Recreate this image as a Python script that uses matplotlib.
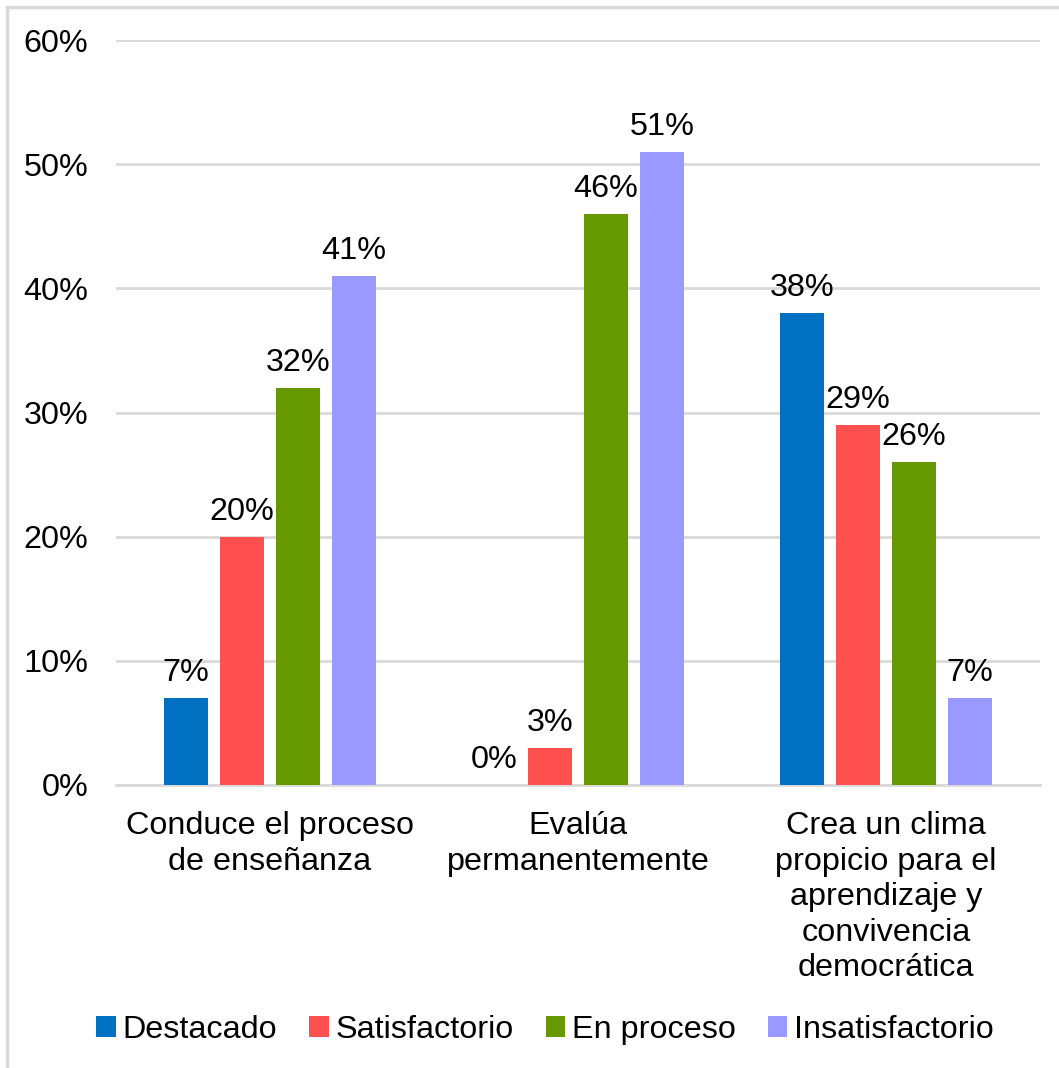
import numpy as np
import matplotlib.pyplot as plt
from matplotlib.patches import Rectangle

plt.rcParams['font.family'] = ['Liberation Sans', 'DejaVu Sans']

categorias = ["Conduce el proceso\nde enseñanza",
              "Evalúa\npermanentemente",
              "Crea un clima\npropicio para el\naprendizaje y\nconvivencia\ndemocrática"]
niveles = ["Destacado", "Satisfactorio", "En proceso", "Insatisfactorio"]
destacado = [7, 0, 38]
satisfactorio = [20, 3, 29]
en_proceso = [32, 46, 26]
insatisfactorio = [41, 51, 7]
colores = ["#0070C0", "#FF5050", "#669900", "#9999FF"]

series = [destacado, satisfactorio, en_proceso, insatisfactorio]
fs = 23.3

fig = plt.figure(figsize=(10.59, 10.68), dpi=100)
ax = fig.add_axes([116 / 1059, 283 / 1068, 924 / 1059, 745 / 1068])

# light frame on the left and top edges of the chart
fig.patches.append(Rectangle((7 / 1059, -0.1), 1.2, (1061 / 1068) + 0.1,
                             transform=fig.transFigure, fill=False,
                             edgecolor="#d9d9d9", linewidth=2.5))

x = np.arange(len(categorias))
ancho = 44 / 308
paso = 56 / 308
for i, (vals, col, nom) in enumerate(zip(series, colores, niveles)):
    pos = x + (i - 1.5) * paso
    ax.bar(pos, vals, width=ancho, color=col, label=nom, zorder=3)
    for p, v in zip(pos, vals):
        ax.text(p, v + 0.8, f"{v}%", ha="center", va="bottom", fontsize=fs)

ax.set_xlim(-0.5, 2.5)
ax.set_ylim(0, 60)
ax.set_yticks(range(0, 61, 10))
ax.set_yticklabels([f"{t}%" for t in range(0, 61, 10)], fontsize=fs)
ax.set_xticks(x)
ax.set_xticklabels(categorias, fontsize=fs, linespacing=1.24, va="top")
ax.tick_params(axis="both", length=0)
ax.tick_params(axis="y", pad=20)
ax.tick_params(axis="x", pad=19)
ax.grid(axis="y", color="#d9d9d9", linewidth=2, zorder=0)
for s in ["left", "right", "top"]:
    ax.spines[s].set_visible(False)
ax.spines["bottom"].set_color("#d9d9d9")
ax.spines["bottom"].set_linewidth(2)

fig.legend(loc="center", bbox_to_anchor=(545 / 1059, 1 - 1030 / 1068), ncol=4,
           fontsize=fs, frameon=False, handlelength=0.6, handleheight=0.6,
           handletextpad=0.2, columnspacing=1.0)

fig.savefig("out.png", dpi=100)
